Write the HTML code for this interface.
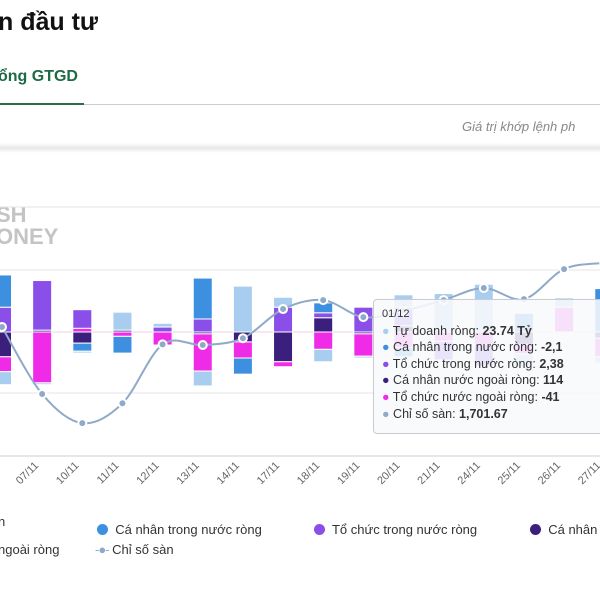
<!DOCTYPE html>
<html><head><meta charset="utf-8"><style>
body{margin:0;width:600px;height:600px;overflow:hidden;background:#fff;font-family:"Liberation Sans",sans-serif;position:relative}
.abs{position:absolute}
</style></head><body>
<div class="abs" style="left:-2px;top:8px;font-size:25px;font-weight:bold;color:#111">n đầu tư</div>
<div class="abs" style="left:-2px;top:68px;font-size:16px;font-weight:bold;color:#1d6a45">ổng GTGD</div>
<div class="abs" style="left:0;top:103px;width:84px;height:2px;background:#2a6e4d"></div>
<div class="abs" style="left:84px;top:104px;width:516px;height:1px;background:#ccc"></div>
<div class="abs" style="left:462px;top:119px;font-size:13px;font-style:italic;color:#888;white-space:nowrap">Giá trị khớp lệnh ph</div>
<div class="abs" style="left:0;top:143px;width:600px;height:10px;background:linear-gradient(#fff,#e8e8e8,#fff)"></div>
<div class="abs" style="left:-4px;top:204px;font-size:22px;font-weight:bold;color:#c4c4c4;line-height:22px">SH<br>ONEY</div>
<svg class="abs" style="left:0;top:0" width="600" height="600" id="chart"></svg>
<div class="abs" style="left:0;top:510px;width:600px;height:60px;overflow:hidden;font-size:13px;color:#333">
<div class="abs" style="left:97px;top:12px;white-space:nowrap"><span style="display:inline-block;width:11px;height:11px;border-radius:50%;background:#3d8fe0;vertical-align:-1px"></span>&nbsp; Cá nhân trong nước ròng</div>
<div class="abs" style="left:314px;top:12px;white-space:nowrap"><span style="display:inline-block;width:11px;height:11px;border-radius:50%;background:#8a4fe8;vertical-align:-1px"></span>&nbsp; Tổ chức trong nước ròng</div>
<div class="abs" style="left:530px;top:12px;white-space:nowrap"><span style="display:inline-block;width:11px;height:11px;border-radius:50%;background:#3b1f7c;vertical-align:-1px"></span>&nbsp; Cá nhân</div>
<div class="abs" style="left:-2px;top:4px;white-space:nowrap">n</div>
<div class="abs" style="left:-2px;top:32px;white-space:nowrap">ngoài ròng</div>
<div class="abs" style="left:95px;top:32px;white-space:nowrap"><span style="color:#8fa9c9;letter-spacing:-1px">-●-</span> Chỉ số sàn</div>
</div>
<div class="abs" style="left:373px;top:299px;width:227px;height:135px;overflow:hidden;background:rgba(247,249,252,0.88);border:1px solid #c8ccd2;border-right:none;border-radius:4px 0 0 4px;font-size:12.5px;color:#333;line-height:16.6px;padding:6px 0 0 8px;box-sizing:border-box;white-space:nowrap">
<div style="font-size:11px">01/12</div>
<div><span style="color:#a9cdef">●</span> Tự doanh ròng: <b>23.74 Tỷ</b></div>
<div><span style="color:#3d8fe0">●</span> Cá nhân trong nước ròng: <b>-2,1</b></div>
<div><span style="color:#8a4fe8">●</span> Tổ chức trong nước ròng: <b>2,38</b></div>
<div><span style="color:#3b1f7c">●</span> Cá nhân nước ngoài ròng: <b>114</b></div>
<div><span style="color:#f02be8">●</span> Tổ chức nước ngoài ròng: <b>-41</b></div>
<div><span style="color:#8fa9c9">●</span> Chỉ số sàn: <b>1,701.67</b></div>
</div>
<script>
const categories=["06/11","07/11","10/11","11/11","12/11","13/11","14/11","17/11","18/11","19/11","20/11","21/11","24/11","25/11","26/11","27/11"];
const tuDoanh=[-210,-30,-30,290,60,-240,740,160,-200,-30,200,620,770,-200,150,-100];
const caNhanTN=[520,0,-130,-270,0,660,-260,0,160,0,-150,0,0,300,0,700];
const toChucTN=[400,800,300,0,80,210,0,400,80,400,300,-300,-350,0,0,0];
const caNhanNN=[-400,30,-180,30,0,-30,-160,-480,230,-30,100,0,0,-200,0,-100];
const toChucNN=[-240,-820,60,-70,-210,-600,-260,-80,-280,-360,-250,-150,-200,-150,400,-300];
const chiSo=[1681.6,1660,1650.6,1657,1676,1675.8,1678,1687.4,1690.3,1684.8,1686.8,1690.3,1694.2,1690.6,1700.3,1702.3];
const svg=document.getElementById('chart');const NS='http://www.w3.org/2000/svg';
function xPos(i){return 2+i*40.15;}
function yBar(v){return 332-v*62/1000;}
function yIdx(v){return 332-(v-1680)*3.1;}
function mk(t,a){const e=document.createElementNS(NS,t);for(const k in a)e.setAttribute(k,a[k]);svg.appendChild(e);return e;}
[207,270,393].forEach(y=>{const l=mk('line',{x1:0,x2:600,y1:y,y2:y,stroke:'#e6e6e6'});});
const z=mk('line',{x1:0,x2:600,y1:332,y2:332,stroke:'#f0d0dc'});
const ax=mk('line',{x1:0,x2:600,y1:456,y2:456,stroke:'#ccc'});
const series=[[caNhanNN,'#3b1f7c'],[toChucNN,'#f02be8'],[toChucTN,'#8a4fe8'],[caNhanTN,'#3d8fe0'],[tuDoanh,'#a9cdef']];
categories.forEach((c,i)=>{let pos=0,neg=0;const x=xPos(i)-9.5;
 series.forEach(([arr,col])=>{const v=arr[i];if(!v)return;let y0,y1;
  if(v>0){y0=yBar(pos+v);y1=yBar(pos);pos+=v;}else{y0=yBar(neg);y1=yBar(neg+v);neg+=v;}
  const r=mk('rect',{x:x,y:y0,width:19,height:Math.max(1,y1-y0),fill:col,stroke:'#fff','stroke-width':1});
  });
 const lx=xPos(i)-3,ly=466;
 const t=mk('text',{x:lx,y:ly,'font-size':11,fill:'#666','text-anchor':'end',transform:`rotate(-45 ${lx} ${ly})`});t.textContent=c;
 });
const pts=chiSo.map((v,i)=>[xPos(i),yIdx(v)]);
let d='M'+pts[0][0]+','+pts[0][1];
for(let i=0;i<pts.length-1;i++){const p0=pts[Math.max(0,i-1)],p1=pts[i],p2=pts[i+1],p3=pts[Math.min(pts.length-1,i+2)];
 d+=` C${p1[0]+(p2[0]-p0[0])/6},${p1[1]+(p2[1]-p0[1])/6} ${p2[0]-(p3[0]-p1[0])/6},${p2[1]-(p3[1]-p1[1])/6} ${p2[0]},${p2[1]}`;}
const ln=mk('path',{d:d,fill:'none',stroke:'#8fa9c9','stroke-width':2});
pts.forEach(p=>{const c=mk('circle',{cx:p[0],cy:p[1],r:4,fill:'#8fa9c9',stroke:'#fff','stroke-width':2});
 });
</script>
</body></html>
